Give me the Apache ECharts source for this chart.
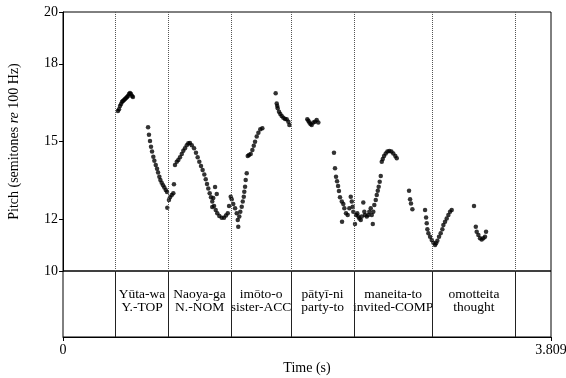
<!DOCTYPE html>
<html>
<head>
<meta charset="utf-8">
<script src="https://cdn.jsdelivr.net/npm/echarts@6/dist/echarts.min.js"></script>
<style>
  html, body { margin: 0; padding: 0; background: #fff; }
  #chart { width: 566px; height: 378px; }
</style>
</head>
<body>
<div id="chart"></div>
<script>
// pitch track, [time (s), semitones re 100 Hz]
const yutaPitch = [
  [0.429, 16.18], [0.437, 16.25], [0.445, 16.37], [0.453, 16.45], [0.461, 16.53], [0.468, 16.56],
  [0.476, 16.60], [0.484, 16.64], [0.492, 16.68], [0.500, 16.72], [0.507, 16.76], [0.515, 16.83],
  [0.523, 16.87], [0.531, 16.83], [0.539, 16.76], [0.546, 16.72],
  [0.664, 15.55], [0.671, 15.26], [0.679, 15.02], [0.687, 14.80], [0.695, 14.61], [0.705, 14.41],
  [0.713, 14.26], [0.724, 14.09], [0.734, 13.95], [0.742, 13.80], [0.752, 13.64], [0.760, 13.51],
  [0.770, 13.41], [0.781, 13.31], [0.791, 13.22], [0.802, 13.13], [0.812, 13.05], [0.814, 12.44],
  [0.827, 12.74], [0.835, 12.85], [0.849, 12.93], [0.861, 13.00], [0.866, 13.35],
];
const naoyaPitch = [
  [0.874, 14.09], [0.888, 14.22], [0.900, 14.29], [0.913, 14.39], [0.927, 14.52], [0.939, 14.64],
  [0.952, 14.74], [0.966, 14.86], [0.978, 14.93], [0.991, 14.94], [1.005, 14.86], [1.023, 14.74],
  [1.038, 14.57], [1.051, 14.39], [1.064, 14.22], [1.077, 14.05], [1.090, 13.90], [1.103, 13.73],
  [1.114, 13.54], [1.124, 13.36], [1.134, 13.19], [1.145, 13.00], [1.155, 12.85], [1.165, 12.68],
  [1.179, 12.51], [1.192, 12.36], [1.204, 12.23], [1.220, 12.12], [1.239, 12.06], [1.257, 12.06],
  [1.272, 12.14], [1.286, 12.23],
  [1.187, 13.24], [1.200, 12.97], [1.173, 12.82], [1.165, 12.47],
  [1.296, 12.51], [1.309, 12.87],
];
const imotoPitch = [
  [1.317, 12.77], [1.329, 12.59], [1.343, 12.42], [1.356, 12.23], [1.364, 11.97], [1.368, 11.71],
  [1.376, 12.10], [1.384, 12.29], [1.395, 12.48], [1.403, 12.68], [1.411, 12.87], [1.415, 13.06],
  [1.421, 13.25], [1.426, 13.51], [1.434, 13.77],
  [1.442, 14.44], [1.452, 14.48], [1.465, 14.52], [1.478, 14.67], [1.489, 14.84], [1.499, 14.99],
  [1.512, 15.19], [1.525, 15.34], [1.540, 15.47], [1.556, 15.51],
  [1.660, 16.86], [1.668, 16.47], [1.672, 16.37], [1.676, 16.28], [1.686, 16.15], [1.696, 16.06],
  [1.707, 15.98], [1.720, 15.92], [1.733, 15.87], [1.746, 15.86], [1.759, 15.76], [1.767, 15.64],
];
const patyiPitch = [
  [1.907, 15.86], [1.915, 15.80], [1.923, 15.73], [1.932, 15.68], [1.941, 15.64], [1.954, 15.73],
  [1.967, 15.76], [1.980, 15.83], [1.993, 15.73],
  [2.115, 14.57], [2.123, 13.97], [2.131, 13.64], [2.139, 13.47], [2.147, 13.28], [2.154, 13.09],
  [2.162, 12.85], [2.176, 12.68], [2.178, 11.90], [2.188, 12.59], [2.196, 12.42], [2.209, 12.23],
  [2.222, 12.16], [2.235, 12.42], [2.246, 12.87], [2.254, 12.68], [2.261, 12.48], [2.266, 12.29],
];
const maneitaPitch = [
  [2.279, 11.81], [2.287, 12.16], [2.297, 12.23], [2.305, 12.10], [2.313, 12.03], [2.324, 11.97],
  [2.332, 12.10], [2.344, 12.64], [2.352, 12.29], [2.357, 12.16], [2.371, 12.10], [2.383, 12.16],
  [2.391, 12.29], [2.402, 12.42], [2.410, 12.16], [2.418, 11.81], [2.422, 12.29], [2.430, 12.55],
  [2.441, 12.74], [2.449, 12.93], [2.457, 13.10], [2.464, 13.25], [2.472, 13.45], [2.480, 13.67],
  [2.488, 14.22], [2.496, 14.32], [2.506, 14.44], [2.519, 14.54], [2.532, 14.61], [2.547, 14.63],
  [2.563, 14.61], [2.578, 14.54], [2.594, 14.44], [2.605, 14.35],
  [2.701, 13.10], [2.709, 12.77], [2.716, 12.61], [2.727, 12.38],
  [2.826, 12.36], [2.834, 12.07], [2.839, 11.84], [2.844, 11.61], [2.852, 11.46], [2.865, 11.32],
  [2.878, 11.20],
];
const omotteitaPitch = [
  [2.891, 11.09], [2.904, 11.00], [2.912, 11.07], [2.922, 11.17], [2.935, 11.32], [2.948, 11.46],
  [2.961, 11.61], [2.969, 11.78], [2.982, 11.90], [2.995, 12.03], [3.008, 12.16], [3.021, 12.29],
  [3.034, 12.36],
  [3.208, 12.51], [3.222, 11.71], [3.229, 11.52], [3.242, 11.39], [3.255, 11.26], [3.268, 11.22],
  [3.281, 11.26], [3.294, 11.32], [3.302, 11.52],
];

// word boundaries (s) and the text tier
const boundaries = [0.414, 0.821, 1.311, 1.780, 2.272, 2.883, 3.531];
const words = ['Yūta-wa', 'Naoya-ga', 'imōto-o', 'pātyī-ni', 'maneita-to', 'omotteita'];
const glosses = ['Y.-TOP', 'N.-NOM', 'sister-ACC', 'party-to', 'invited-COMP', 'thought'];

const pitchTicks = [10, 12, 15, 18, 20];
const timeTicks = [0, 3.809];
const timeMax = 3.809;

const serif = '"Liberation Serif", "DejaVu Serif", serif';

const allPitch = [].concat(yutaPitch, naoyaPitch, imotoPitch, patyiPitch, maneitaPitch, omotteitaPitch);

const tierAreas = words.map((w, i) => [
  { xAxis: boundaries[i], name: w + '\n' + glosses[i] },
  { xAxis: boundaries[i + 1] },
]);

const chart = echarts.init(document.getElementById('chart'));

chart.setOption({
  animation: false,
  backgroundColor: '#fff',
  grid: [
    {
      left: 63, right: 15, top: 12, height: 259,
      outerBoundsMode: 'none', containLabel: false,
      show: true, borderColor: '#000', borderWidth: 1,
    },
    {
      left: 63, right: 15, top: 271, height: 66,
      outerBoundsMode: 'none', containLabel: false,
      show: true, borderColor: '#000', borderWidth: 1,
    },
  ],
  xAxis: [
    { gridIndex: 0, type: 'value', min: 0, max: timeMax, show: false },
    {
      gridIndex: 1,
      type: 'value',
      min: 0,
      max: timeMax,
      name: 'Time (s)',
      nameLocation: 'middle',
      nameGap: 24,
      nameTextStyle: { fontFamily: serif, fontSize: 14, color: '#000' },
      axisLine: { lineStyle: { color: '#000', width: 1 } },
      axisTick: { show: true, length: 4, customValues: timeTicks, lineStyle: { color: '#000' } },
      axisLabel: {
        customValues: timeTicks,
        margin: 6,
        fontFamily: serif,
        fontSize: 14,
        color: '#000',
        formatter: (v) => String(v),
      },
      splitLine: { show: false },
    },
  ],
  yAxis: [
    {
      gridIndex: 0,
      type: 'value',
      min: 10,
      max: 20,
      name: 'Pitch (semitones {i|re} 100 Hz)',
      nameLocation: 'middle',
      nameGap: 42,
      nameTextStyle: {
        fontFamily: serif,
        fontSize: 14,
        color: '#000',
        rich: { i: { fontFamily: serif, fontSize: 14, fontStyle: 'italic', color: '#000' } },
      },
      axisLine: { show: true, lineStyle: { color: '#000', width: 1 } },
      axisTick: { show: true, length: 4, customValues: pitchTicks, lineStyle: { color: '#000' } },
      axisLabel: { customValues: pitchTicks, margin: 5, fontFamily: serif, fontSize: 14, color: '#000' },
      splitLine: { show: false },
    },
    { gridIndex: 1, type: 'value', min: 0, max: 1, show: false },
  ],
  series: [
    {
      type: 'scatter',
      xAxisIndex: 0,
      yAxisIndex: 0,
      symbolSize: 4.5,
      itemStyle: { color: '#000' },
      data: allPitch,
      markLine: {
        silent: true,
        symbol: ['none', 'none'],
        label: { show: false },
        lineStyle: { type: 'dotted', color: '#555', width: 1 },
        data: boundaries.map((b) => ({ xAxis: b })),
      },
    },
    {
      type: 'line',
      xAxisIndex: 1,
      yAxisIndex: 1,
      data: [],
      markLine: {
        silent: true,
        symbol: ['none', 'none'],
        label: { show: false },
        lineStyle: { type: 'solid', color: '#222', width: 1 },
        data: boundaries.map((b) => ({ xAxis: b })),
      },
      markArea: {
        silent: true,
        itemStyle: { color: 'rgba(0,0,0,0)' },
        label: {
          show: true,
          position: 'inside',
          offset: [0, -3],
          fontFamily: serif,
          fontSize: 13.5,
          lineHeight: 13,
          color: '#000',
          formatter: (p) => p.name,
        },
        data: tierAreas,
      },
    },
  ],
});
</script>
</body>
</html>
